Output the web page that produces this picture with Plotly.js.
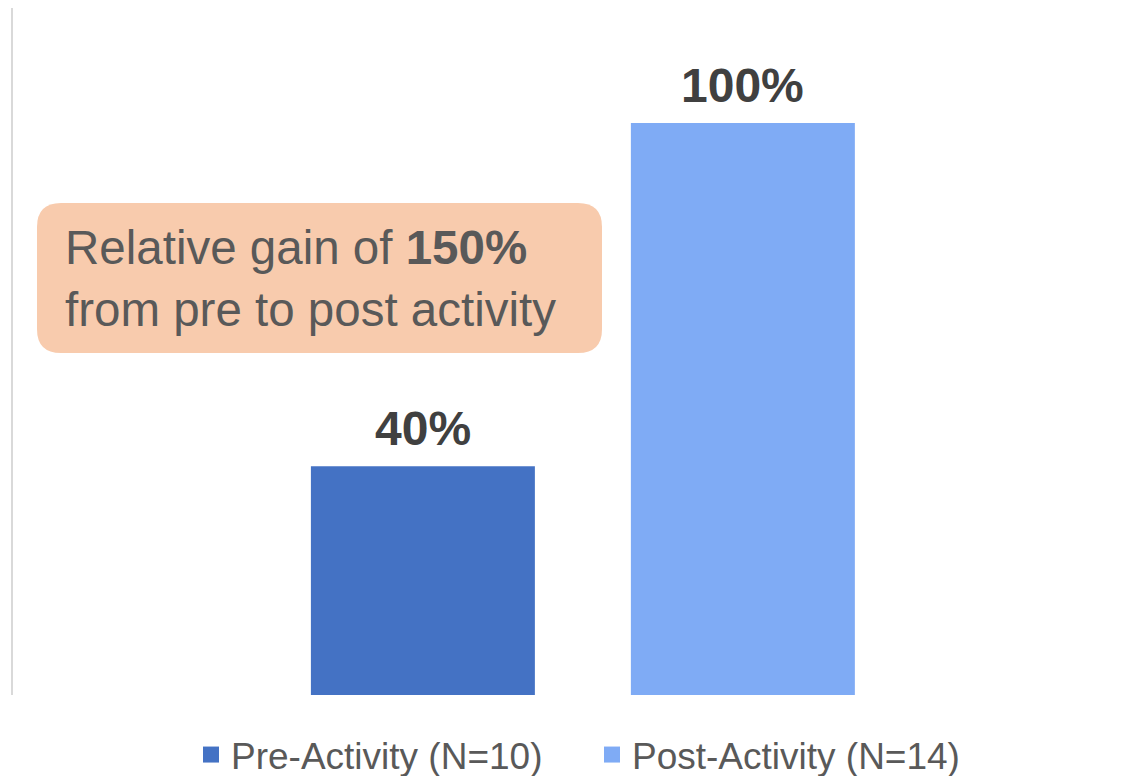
<!DOCTYPE html>
<html>
<head>
<meta charset="utf-8">
<script src="https://cdn.plot.ly/plotly-3.0.1.min.js"></script>
<style>html,body{margin:0;padding:0;background:#fff;}#chart{width:1145px;height:776px;}</style>
</head>
<body>
<div id="chart"></div>
<script>
// Data
const categories = ["Pre", "Post"];
const seriesNames = ["Pre-Activity (N=10)", "Post-Activity (N=14)"];
const values = [40, 100];
const colors = ["#4472C4", "#7FABF5"];
const calloutLines = ["Relative gain of <b>150%</b>", "from pre to post activity"];

const FONT = "Liberation Sans, Arial, Helvetica, sans-serif";
const W = 1145, H = 776;
const M = {l: 13, r: 14, t: 8, b: 81};
const pw = W - M.l - M.r, ph = H - M.t - M.b;
const px2x = p => (p - M.l) / pw;
const px2y = p => (H - M.b - p) / ph;

const bars = categories.map((c, i) => ({
  type: "bar",
  x: [c],
  y: [values[i]],
  name: seriesNames[i],
  legendgroup: "g" + i,
  showlegend: false,
  width: 0.7,
  marker: {color: colors[i]},
  hoverinfo: "skip"
}));

// legend entries (larger square swatches)
const legendEntries = categories.map((c, i) => ({
  type: "scatter", mode: "markers",
  x: [null], y: [null],
  name: seriesNames[i],
  legendgroup: "g" + i,
  marker: {symbol: "square", size: 16, color: colors[i]},
  hoverinfo: "skip"
}));

const valueLabels = categories.map((c, i) => ({
  x: c, y: values[i], xref: "x", yref: "y",
  text: "<b>" + values[i] + "%</b>",
  showarrow: false, yanchor: "bottom", yshift: 9,
  font: {family: FONT, size: 48, color: "#404040"}
}));

// rounded callout box
function roundRect(x0, y0, x1, y1, r) {
  const X = px2x, Y = px2y;
  return `M${X(x0 + r)},${Y(y0)} L${X(x1 - r)},${Y(y0)} Q${X(x1)},${Y(y0)} ${X(x1)},${Y(y0 + r)} ` +
         `L${X(x1)},${Y(y1 - r)} Q${X(x1)},${Y(y1)} ${X(x1 - r)},${Y(y1)} ` +
         `L${X(x0 + r)},${Y(y1)} Q${X(x0)},${Y(y1)} ${X(x0)},${Y(y1 - r)} ` +
         `L${X(x0)},${Y(y0 + r)} Q${X(x0)},${Y(y0)} ${X(x0 + r)},${Y(y0)} Z`;
}

const layout = {
  width: W, height: H,
  margin: M,
  paper_bgcolor: "#ffffff", plot_bgcolor: "#ffffff",
  barmode: "overlay",
  showlegend: true,
  hovermode: false,
  xaxis: {type: "category", range: [-1.281, 2.213], showgrid: false, zeroline: false,
          showline: false, showticklabels: false, ticks: "", fixedrange: true},
  yaxis: {range: [0, 120.1], showgrid: false, zeroline: false, showline: true,
          linecolor: "#d9d9d9", linewidth: 2, showticklabels: false, ticks: "", fixedrange: true},
  legend: {orientation: "h", xref: "container", yref: "container",
           x: 191 / W, xanchor: "left", y: (H - 755) / H, yanchor: "middle",
           entrywidth: 356, entrywidthmode: "pixels", itemsizing: "trace",
           font: {family: FONT, size: 37, color: "#595959"}, bgcolor: "rgba(0,0,0,0)"},
  shapes: [{type: "path", xref: "paper", yref: "paper", layer: "below",
            path: roundRect(37, 203, 602, 353, 24),
            fillcolor: "#F8CBAD", line: {width: 0}}],
  annotations: valueLabels.concat([{
    xref: "paper", yref: "paper", x: px2x(63), y: px2y(279),
    xanchor: "left", yanchor: "middle", align: "left", showarrow: false,
    text: calloutLines.join("<br>"),
    font: {family: FONT, size: 47.5, color: "#595959"}
  }])
};

Plotly.newPlot("chart", bars.concat(legendEntries), layout, {displayModeBar: false, staticPlot: true});
</script>
</body>
</html>
